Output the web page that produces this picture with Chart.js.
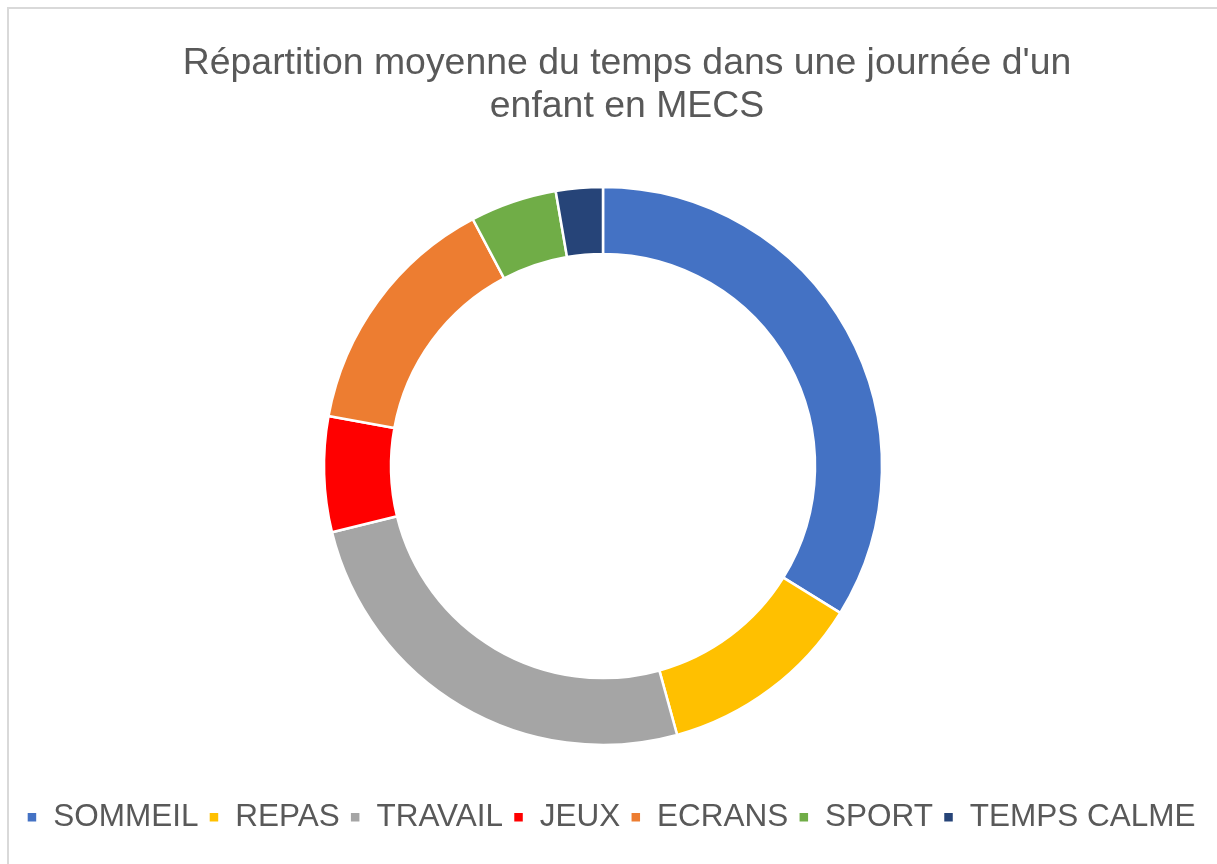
<!DOCTYPE html>
<html>
<head>
<meta charset="utf-8">
<script src="https://cdn.jsdelivr.net/npm/chart.js@4/dist/chart.umd.min.js"></script>
<style>
  html, body { margin: 0; padding: 0; background: #fff; overflow: hidden; }
  #frame { position: absolute; left: 7px; top: 7px; width: 1300px; height: 900px;
           border-left: 2px solid #d9d9d9; border-top: 2px solid #d9d9d9; }
  #chart { position: absolute; left: 0; top: 0; }
</style>
</head>
<body>
<div id="frame"></div>
<canvas id="chart" width="1217" height="864"></canvas>
<script>
// heures moyennes par activité
const categories = ['SOMMEIL', 'REPAS', 'TRAVAIL', 'JEUX', 'ECRANS', 'SPORT', 'TEMPS CALME'];
const hours = [8.1, 2.85, 6.1, 1.6, 3.45, 1.2, 0.65];
const colors = ['#4472C4', '#FFC000', '#A5A5A5', '#FF0000', '#ED7D31', '#70AD47', '#264478'];
const titleLines = ["Répartition moyenne du temps dans une journée d'un", 'enfant en MECS'];

// title and legend are not centred on the ring in the original, nudge them sideways
const shiftBoxes = {
    id: 'shiftBoxes',
    afterLayout(chart) {
        if (chart.titleBlock) {
            chart.titleBlock.left += 24;
            chart.titleBlock.right += 24;
        }
        if (chart.legend) {
            chart.legend.left += 8;
            chart.legend.right += 8;
        }
    }
};

const ctx = document.getElementById('chart').getContext('2d');
const chart = new Chart(ctx, {
    type: 'doughnut',
    data: {
        labels: categories,
        datasets: [{
            data: hours,
            backgroundColor: colors,
            borderColor: '#ffffff',
            borderWidth: 2.5,
            hoverOffset: 0
        }]
    },
    options: {
        responsive: false,
        animation: false,
        radius: 279,
        cutout: '76%',
        layout: {
            padding: { top: 0, left: 0, right: 11, bottom: 21 }
        },
        plugins: {
            title: {
                display: true,
                text: titleLines,
                color: '#595959',
                font: { family: "'Liberation Sans', Arial, sans-serif", size: 37.4, weight: 'normal', lineHeight: 1.162 },
                padding: { top: 41.5, bottom: 12.1 }
            },
            legend: {
                position: 'bottom',
                labels: {
                    color: '#595959',
                    font: { family: "'Liberation Sans', Arial, sans-serif", size: 31.5 },
                    boxWidth: 11,
                    boxHeight: 11,
                    padding: 10
                }
            },
            tooltip: { enabled: false }
        }
    },
    plugins: [shiftBoxes]
});
</script>
</body>
</html>
